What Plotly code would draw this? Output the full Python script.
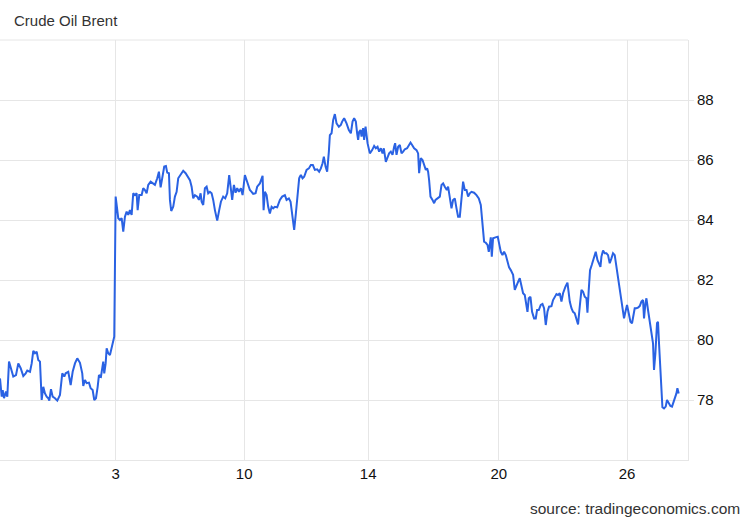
import plotly.graph_objects as go

title_text = "Crude Oil Brent"
source_text = "source: tradingeconomics.com"

# time position of each sample (session index scale) and Brent price (USD/bbl)
t = [0, 1.7, 2.7, 4, 6, 7.3, 9, 11, 13.3, 16, 18.3, 20.7, 23.3, 25.7, 27.3, 30, 31.7, 33.3, 35, 36.7,
     38.3, 40, 41.7, 43.3, 45, 46.7, 48.3, 49.3, 51, 52.7, 55, 57.3, 60, 62.3, 64.3, 65.7, 68.3, 70.7,
     72.7, 75, 77.3, 80, 82.3, 83.3, 85, 86.7, 89, 90.7, 92.7, 94.3, 96, 97.7, 99, 101, 102.3, 103.3,
     104.3, 105.7, 106.7, 108.3, 110, 111.7, 113.3, 114.3,
     115.7, 118.3, 120, 121.7, 123.3, 125, 126.7, 128.3, 130, 131.7, 133.3, 135, 136.7, 137.7, 139.3,
     141.7, 143.3, 145, 146.7, 148.3, 150.7, 153.3, 155, 157.3, 159, 160.7, 162.7, 164.3, 166, 167.3,
     169, 170, 171.3, 173.3, 175, 176.7, 178.3, 180.7, 183.3, 185.7, 188.3, 190, 191.7, 193.3, 195,
     197.3, 199, 200.7, 201.7, 203.3, 205, 206.7, 208.3, 210, 211.7, 213.3, 215, 217.3, 219.3, 221,
     223.3, 225.3, 227.3, 229.3, 230.7, 232.3, 234, 235.7, 237.3, 239, 241, 242.7, 245, 246.7, 248.3,
     250, 251.7, 253.3, 255.7, 257.3, 260, 261.7, 262.7, 263.7, 265, 266.7, 268.3, 270, 271.7, 273.3,
     275, 277.3, 280, 282.3, 285, 286.7, 289, 290.7, 292.3, 294.3, 296, 297.7, 299.3,
     300, 301, 302.7, 304.3, 306.7, 309, 311, 313, 315, 317.3, 319.3, 321, 322.7, 324, 325.7, 327.3,
     329, 330, 331.7, 333.3, 335, 336.7, 339, 341, 342.3, 344.3, 346.7, 349, 351, 352.7, 354.3, 356,
     357.3, 358.3, 359.3, 360.7, 361.7, 363.3, 364.3, 365.7, 367.7, 370, 372.3, 374.3, 376, 377.7,
     379.3, 381, 382.7, 384, 386, 387.7, 389.3, 391, 392.7, 394.3, 395.3, 396.7, 398.3, 400, 401.7,
     403.3, 405, 407.3, 409, 410.7, 412.3, 414.3, 416.7, 418.3, 419.3, 421, 422.7, 424.3, 426, 427.3,
     428.3, 429.3, 430.7, 432.7, 434.3, 435.7, 437.7, 440, 441.7, 443.3, 445, 447, 448.3, 450, 451.7,
     453.3, 455, 456.7, 458.3, 460, 461.7, 463.3, 465, 466.7, 468.3, 470, 471.7, 474.3, 476.7, 479,
     481, 483.3, 484.3, 486, 487.7, 489, 490, 491, 492, 493.3, 495.7, 498, 499.3, 501, 502.7, 504.3,
     506, 507.7, 509.3, 511, 513.3, 515, 516.7, 518.3, 520, 521.7, 523.3, 525, 526.7, 527.7, 529,
     530.7, 532.3, 534.3, 536, 537.3, 539, 541, 542.7, 544.3, 546, 547.7, 549.3, 551.7, 553.3, 555,
     556.7, 558.3, 560, 561.7, 563.3, 565.7, 567.7, 569, 570, 571.7, 573.3, 575, 576.7, 578.3, 580,
     581.7, 583.3, 585, 586.7, 587.7, 589, 590.3, 592, 593.3, 595, 596, 597.7, 599.3, 600.7, 601.7,
     603.3, 605, 606.7, 608.3, 610, 611.7, 613.3, 615, 616.7, 618.3, 620, 621.7, 623.3, 624.3, 625.7,
     627.3, 629, 630.7, 632.3, 634, 635, 636.7, 638.3, 640, 641.7, 643.3, 644.3, 645.7, 646.7, 648.3,
     650, 651.7, 653.3, 654.3, 655.7, 657.3, 658.3, 659.3, 660.7, 661.7, 662.7, 664.3, 666, 667.3,
     669, 670.7, 672.3, 674, 675.7, 676.7, 677.7, 679]

price = [78.72, 78.11, 78.33, 78.06, 78.28, 78.11, 79.28, 79.0, 78.78, 78.83, 79.22, 79.06, 78.8, 78.89,
         78.98, 78.94, 79.22, 79.64, 79.56, 79.61, 79.33, 79.28, 78.0, 78.44, 78.22, 78.11, 78.06, 77.98,
         78.36, 78.11, 78.06, 77.98, 78.17, 78.89, 78.78, 78.89, 78.94, 78.5, 78.94, 79.22, 79.39, 79.24,
         78.89, 78.47, 78.67, 78.56, 78.58, 78.39, 78.33, 78.0, 78.06, 78.44, 78.83, 78.78, 79.0, 79.28,
         78.89, 79.22, 79.72, 79.56, 79.5, 79.72, 79.94, 80.11,
         84.78, 84.06, 84.0, 84.06, 83.61, 84.11, 84.28, 84.17, 84.33, 84.17, 84.89, 84.83, 84.89, 84.33,
         84.83, 84.83, 85.06, 85.0, 84.89, 85.17, 85.28, 85.22, 85.17, 85.39, 85.61, 85.09, 85.44, 85.78,
         85.8, 85.58, 85.56, 84.67, 84.3, 84.44, 84.78, 84.94, 85.39, 85.5, 85.64, 85.56, 85.44, 85.33,
         85.11, 84.72, 84.83, 84.78, 84.67, 84.89, 84.61, 84.5, 85.06, 85.11, 84.89, 84.94, 84.89, 84.67,
         84.33, 83.98, 84.33, 84.61, 84.78, 84.72, 84.89, 85.5, 85.11, 84.67, 85.17, 84.91, 85.06, 84.94,
         85.06, 84.83, 85.5, 85.33, 85.11, 85.0, 84.94, 84.87, 84.89, 85.11, 85.22, 85.39, 85.47, 84.33,
         84.94, 84.83, 84.44, 84.22, 84.44, 84.39, 84.44, 84.42, 84.67, 84.78, 84.83, 84.67, 84.72, 84.61,
         84.17, 83.67, 84.22, 85.0, 85.39,
         85.44, 85.5, 85.39, 85.44, 85.67, 85.72, 85.83, 85.83, 85.67, 85.69, 85.61, 85.72, 85.89, 86.11,
         85.78, 85.61, 86.28, 86.83, 86.89, 87.33, 87.53, 87.22, 87.11, 87.17, 87.28, 87.39, 87.22, 87.0,
         86.89, 87.28, 87.39, 87.28, 86.89, 86.67, 86.94, 87.0, 86.78, 87.06, 86.67, 87.11, 86.56, 86.22,
         86.33, 86.47, 86.39, 86.44, 86.28, 86.39, 86.22, 86.39, 85.94, 86.11, 86.22, 86.28, 86.17, 86.44,
         86.56, 86.17, 86.44, 86.5, 86.22, 86.28, 86.36, 86.39, 86.5, 86.58, 86.5, 86.39, 86.33, 86.22,
         85.56, 86.06, 86.0, 85.83, 85.67, 85.72, 85.61, 85.33, 84.78, 84.67, 84.56, 84.67, 84.72, 84.78,
         85.17, 85.22, 85.11, 85.0, 85.11, 84.78, 84.39, 84.67, 84.72, 84.39, 84.11, 84.11, 84.78, 85.28,
         85.0, 85.0, 84.78, 84.89, 84.94, 84.91, 84.83, 84.72, 84.5, 83.67, 83.28, 83.24, 83.17, 82.94,
         83.17, 83.42, 82.78, 83.39, 83.42, 83.44, 83.22, 82.94, 82.83, 82.94, 82.83, 82.61, 82.42, 82.33,
         82.17, 81.67, 81.83, 81.94, 82.06, 81.78, 81.56, 81.5, 81.22, 80.94, 81.39, 81.44, 80.94, 80.72,
         80.72, 81.0, 81.0, 81.17, 81.2, 81.06, 80.5, 80.94, 81.11, 81.13, 81.33, 81.44, 81.53, 81.5,
         81.56, 81.28, 81.56, 81.78, 81.91, 81.56, 81.28, 81.06, 80.94, 80.89, 80.67, 80.52, 81.11, 81.67,
         81.61, 81.44, 81.39, 80.91, 81.67, 82.33, 82.5, 82.67, 82.83, 82.94, 82.67, 82.56, 82.44, 82.78,
         82.98, 82.89, 82.89, 82.83, 82.56, 82.72, 82.89, 82.83, 82.44, 82.11, 81.78, 81.44, 81.0, 80.72,
         80.94, 81.17, 80.89, 80.61, 80.56, 80.83, 81.06, 81.06, 81.08, 81.13, 81.28, 81.33, 80.72, 81.22,
         81.39, 81.0, 80.61, 80.28, 79.89, 79.0, 79.56, 80.56, 80.61, 79.89, 79.0, 78.22, 77.76, 77.72,
         77.78, 78.0, 77.89, 77.8, 77.78, 77.94, 78.06, 78.22, 78.39, 78.22]

x_tick_pos = [115.7, 244.3, 368.3, 499, 627.3]
x_tick_labels = ["3", "10", "14", "20", "26"]
x_range = [0, 688.3]
y_ticks = [78, 80, 82, 84, 86, 88]
y_range = [76, 90]

grid = "#e6e6e6"
txt = "#333333"

fig = go.Figure()
fig.add_trace(go.Scatter(
    x=t, y=price, mode="lines",
    line=dict(color="#2a62e3", width=2),
    hoverinfo="skip", showlegend=False,
))

fig.update_layout(
    width=750, height=520,
    margin=dict(l=0, r=62, t=40, b=60),
    paper_bgcolor="white", plot_bgcolor="white",
    font=dict(family="Arial, Liberation Sans, sans-serif", size=15, color=txt),
    showlegend=False,
)
fig.update_xaxes(
    range=x_range, tickvals=x_tick_pos, ticktext=x_tick_labels,
    showgrid=True, gridcolor=grid, gridwidth=1,
    showline=True, linecolor=grid, linewidth=1, mirror=False,
    ticks="", zeroline=False, tickfont=dict(size=15, color="#111111"),
)
fig.update_yaxes(
    range=y_range, tickvals=y_ticks, side="right",
    showgrid=True, gridcolor=grid, gridwidth=1,
    showline=True, linecolor=grid, linewidth=1,
    ticks="outside", ticklen=5, tickcolor=grid,
    zeroline=False, tickfont=dict(size=15, color="#111111"),
)
# top border line of the plot area
fig.add_shape(type="line", xref="paper", yref="paper", x0=0, x1=1, y0=1, y1=1,
              line=dict(color=grid, width=1))

fig.add_annotation(text=title_text, xref="paper", yref="paper", x=0, y=1,
                   xanchor="left", yanchor="bottom", xshift=12, yshift=9,
                   showarrow=False, font=dict(size=15, color=txt))
fig.add_annotation(text=source_text, xref="paper", yref="paper", x=1, y=0,
                   xanchor="right", yanchor="middle", xshift=54, yshift=-48,
                   showarrow=False, font=dict(size=15.5, color=txt))

fig.write_html("out.html", config={"displayModeBar": False},
               post_script="document.body.style.margin='0';")
